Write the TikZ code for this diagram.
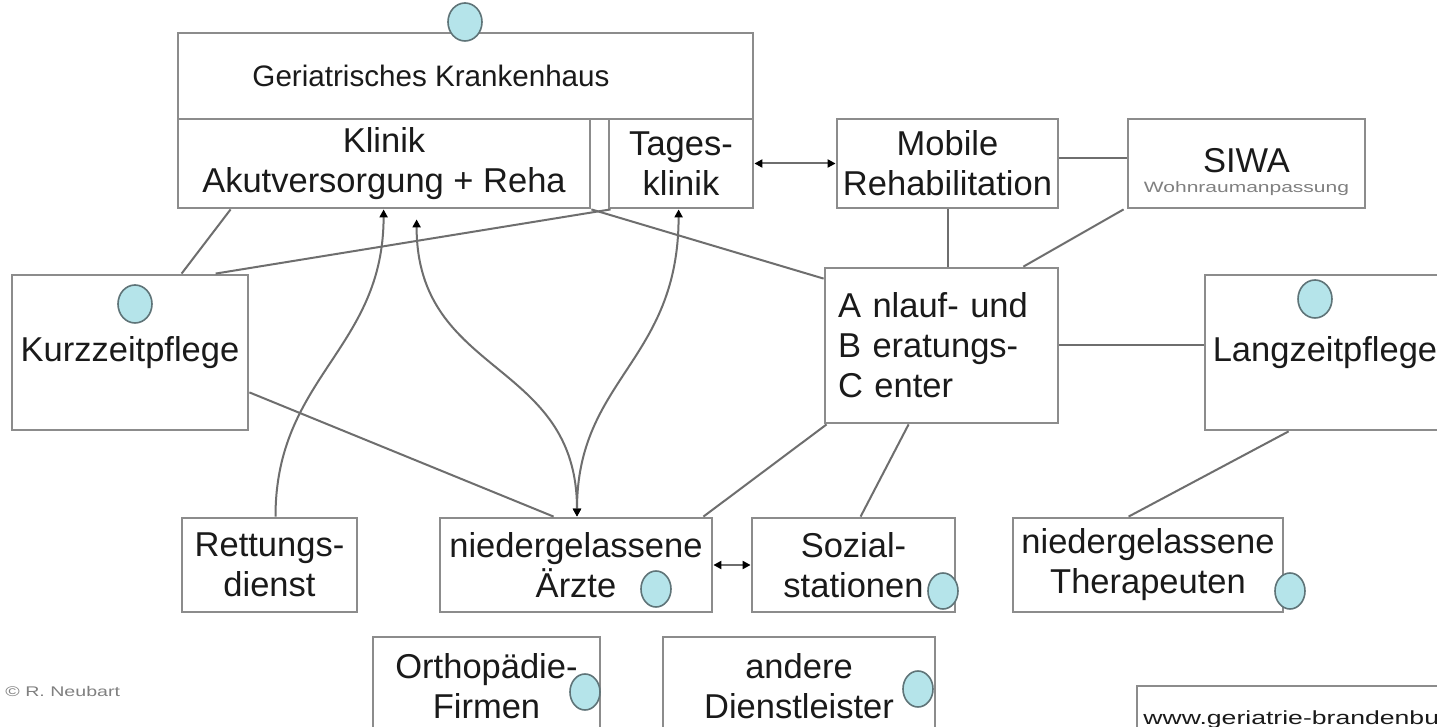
\documentclass[tikz,border=0pt]{standalone}
\usepackage{fontspec}
\setmainfont{Liberation Sans}
\newfontfamily\widefont{Liberation Sans}[FakeStretch=1.4]
\usetikzlibrary{calc,arrows.meta,shapes.geometric}
\definecolor{boxgray}{HTML}{8C8C8C}
\definecolor{linegray}{HTML}{6E6E6E}
\definecolor{dotfill}{HTML}{B5E4EA}
\definecolor{dotline}{HTML}{5F7478}
\definecolor{txt}{HTML}{1A1A1A}
\newcommand\mainfs{\fontsize{17.25}{20}\selectfont}
\newcommand\gkfs{\fontsize{14.8}{18}\selectfont}
\begin{document}
\begin{tikzpicture}[x=0.5pt,y=-0.5pt,
  box/.style={draw=boxgray, line width=1.4pt, fill=white, align=center, inner sep=0pt, font=\mainfs, text=txt},
  conn/.style={draw=linegray, line width=1pt},
  arr/.style={conn, -{Triangle[length=4pt,width=4pt,color=black]}},
  darr/.style={conn, {Triangle[length=4pt,width=4pt,color=black]}-{Triangle[length=4pt,width=4pt,color=black]}},
  dot/.style={ellipse, draw=dotline, fill=dotfill, line width=0.8pt, inner sep=0pt, minimum width=17pt, minimum height=19pt},
  smalldot/.style={dot, minimum width=15pt, minimum height=18pt}
]
\clip (0,0) rectangle (1437,727);
\fill[white] (0,0) rectangle (1437,727);

% boxes
\node[box, minimum width=287.5pt, minimum height=43pt] (gk) at (465.5,76) {};
\node[font=\gkfs, text=txt, inner sep=0pt] (gkt) at (431,76) {Geriatrisches Krankenhaus};
\node[box, minimum width=206pt, minimum height=44.5pt] (klinik) at (384,163.5) {Klinik\\Akutversorgung + Reha};
\node[box, minimum width=72pt, minimum height=44.5pt] (tages) at (681,163.5) {Tages-\\klinik};
\node[box, minimum width=110.5pt, minimum height=44.5pt] (mobile) at (947.5,163.5) {Mobile\\Rehabilitation};
\node[box, minimum width=118.5pt, minimum height=44.5pt] (siwa) at (1246.5,163.5) {\rule{0pt}{20.5pt}SIWA\\[-10pt]{\widefont\fontsize{7.5}{9}\selectfont\color{gray}Wohnraumanpassung}};
\node[box, minimum width=118pt, minimum height=77.5pt] (kurz) at (130,352.5) {Kurzzeitpflege};
\node[box, text width=103.5pt, align=left, minimum width=116.5pt, minimum height=77.5pt] (abc) at (941.5,345.5) {A nlauf- und\\B eratungs-\\C enter};
\node[box, minimum width=120pt, minimum height=77.5pt] (lang) at (1325,352.5) {Langzeitpflege};
\node[box, minimum width=87.5pt, minimum height=47pt] (rett) at (269.5,565) {Rettungs-\\dienst};
\node[box, minimum width=136pt, minimum height=47pt] (aerzte) at (576,565) {niedergelassene\\Ärzte};
\node[box, minimum width=101.5pt, minimum height=47pt] (sozial) at (853.5,565) {Sozial-\\stationen};
\node[box, minimum width=135pt, minimum height=47pt] (thera) at (1148,565) {niedergelassene\\Therapeuten};
\node[box, minimum width=113.5pt, minimum height=49pt] (ortho) at (486.5,686) {Orthopädie-\\Firmen};
\node[box, minimum width=136pt, minimum height=49pt] (andere) at (799,686) {andere\\Dienstleister};
\node[box, minimum width=181.5pt, minimum height=37pt] (www) at (1318.5,723) {};
\node[anchor=base west, inner sep=0pt, font=\widefont\fontsize{9.5}{11}\selectfont, text=txt] (wwwtext) at (1143,724) {www.geriatrie-brandenbu};
\node[anchor=base west, inner sep=0pt, font=\widefont\fontsize{7}{8}\selectfont, text=gray] (copy) at (5,697) {© R. Neubart};

% connectors
\draw[darr] (tages.east) -- (mobile.west);
\draw[conn] ($(mobile.east)+(0,-5)$) -- ($(siwa.west)+(0,-5)$);
\draw[conn] (mobile.south) -- (mobile.south |- abc.north);
\draw[conn] ($(siwa.south west)+(-3,0)$) -- ($(abc.north east)+(-36,0)$);
\draw[conn] (abc.east) -- (abc.east -| lang.west);
\draw[conn] (klinik.south east) -- ($(abc.north west)+(0,12)$);
\draw[conn] ($(kurz.north west)+(171,0)$) -- ($(klinik.south west)+(54,0)$);
\draw[conn] ($(kurz.north west)+(205,0)$) -- ($(tages.south west)+(3,0)$);
\draw[conn] ($(kurz.south east)+(0,-39)$) -- ($(aerzte.north west)+(115,0)$);
\draw[conn] ($(abc.south west)+(3,0)$) -- ($(aerzte.north east)+(-10,0)$);
\draw[conn] ($(abc.south west)+(85,0)$) -- ($(sozial.north west)+(110,0)$);
\draw[conn] ($(lang.south west)+(85,0)$) -- ($(thera.north west)+(117,0)$);
\draw[darr] (aerzte.east) -- (sozial.west);

\coordinate (ka) at ($(aerzte.north)+(1,0)$);
\coordinate (kl2) at ($(klinik.south west)+(240,10)$);
\draw[arr] ($(rett.north)+(6,0)$) .. controls +(0,-140) and +(0,140) .. ($(klinik.south west)+(207,0)$);
\draw[darr] (kl2) .. controls +(0,158) and +(0,-158) .. (ka);
\draw[darr] (ka) .. controls +(0,-138) and +(0,152) .. ($(tages.south west)+(71,0)$);

% dots
\node[dot] (d1) at (465,22) {};
\node[dot] (d2) at (135,304) {};
\node[dot] (d3) at (1315,299) {};
\node[smalldot] (d4) at (656,589) {};
\node[smalldot] (d5) at (943,591) {};
\node[smalldot] (d6) at (1290,591) {};
\node[smalldot] (d7) at (585,692) {};
\node[smalldot] (d8) at (918,689) {};
\end{tikzpicture}
\end{document}
